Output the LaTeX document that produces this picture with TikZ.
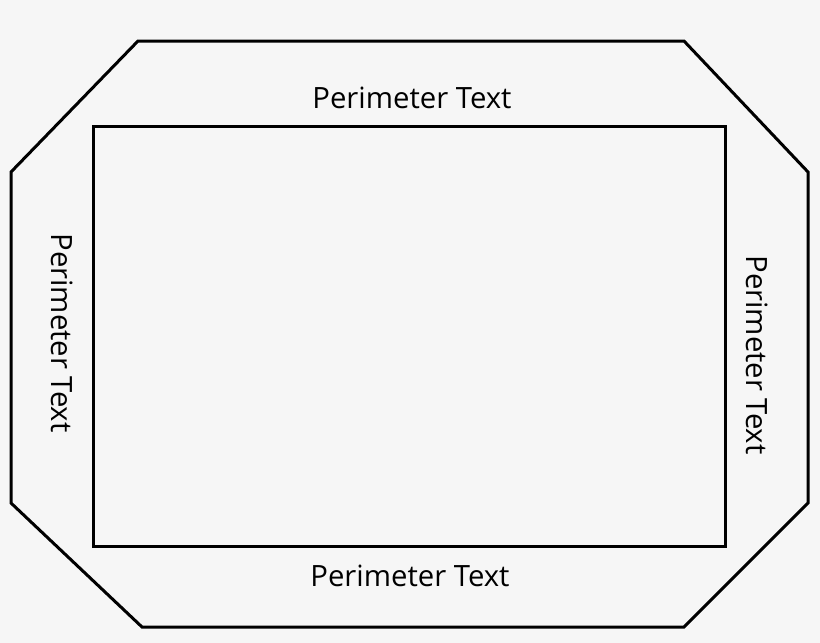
\documentclass[tikz,border=0pt]{standalone}
\usepackage{fontspec}
\setmainfont{Open Sans}
\begin{document}
\begin{tikzpicture}[x=1pt,y=-1pt,
  outline/.style={draw=black,line width=3pt,line join=miter},
  perim/.style={font=\fontsize{29.3}{32}\selectfont,text=black,inner sep=0pt}]
\fill[fill={rgb,255:red,246;green,246;blue,246}] (0,0) rectangle (820,643);
\useasboundingbox (0,0) rectangle (820,643);
\draw[outline] (138,41) -- (684,41) -- (808,172) -- (808,503) -- (684,627) -- (142,627) -- (11,503) -- (11,172) -- cycle;
\draw[outline] (93,126) rectangle (725,546);
\node[perim] (top) at (412,98) {Perimeter Text};
\node[perim] (bottom) at (410,576) {Perimeter Text};
\node[perim,rotate=-90] (left) at (62,333) {Perimeter Text};
\node[perim,rotate=-90] (right) at (757,355) {Perimeter Text};
\end{tikzpicture}
\end{document}
